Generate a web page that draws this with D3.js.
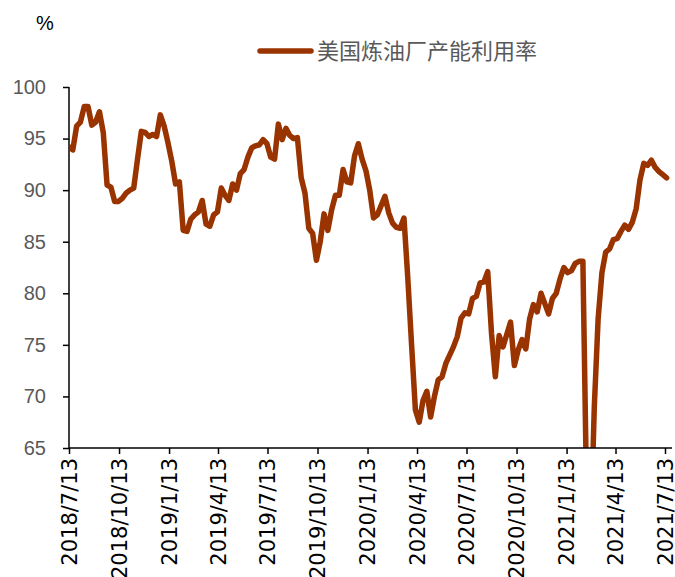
<!DOCTYPE html>
<html>
<head>
<meta charset="utf-8">
<script src="https://cdn.jsdelivr.net/npm/d3@7"></script>
<style>
  body { margin: 0; background: #fff; }
  svg { display: block; }
</style>
</head>
<body>
<div id="chart"></div>
<script>
// weekly US refinery utilization, %, first week ending 2018/7/13
var startDate = "2018-07-13"
var utilization = [
  94.2, 93.9, 96.2, 96.6, 98.1, 98.1, 96.3, 96.6, 97.6, 95.6,
  90.5, 90.3, 88.9, 88.9, 89.2, 89.7, 90.0, 90.2, 93.0, 95.7,
  95.6, 95.2, 95.4, 95.2, 97.3, 96.2, 94.6, 92.8, 90.6, 90.8,
  86.1, 86.0, 87.2, 87.6, 87.9, 89.0, 86.7, 86.5, 87.6, 87.9,
  90.2, 89.5, 89.0, 90.6, 90.0, 91.6, 92.0, 93.2, 94.1, 94.3,
  94.4, 94.9, 94.5, 93.2, 93.0, 96.4, 94.9, 96.0, 95.3, 95.0,
  95.1, 91.2, 89.7, 86.3, 85.8, 83.2, 85.0, 87.7, 86.1, 88.1,
  89.5, 89.5, 92.0, 90.8, 90.7, 93.3, 94.5, 93.0, 91.9, 90.0,
  87.3, 87.6, 88.5, 89.4, 87.8, 86.8, 86.4, 86.3, 87.3, 81.5,
  75.0, 68.7, 67.5, 69.6, 70.5, 68.0, 70.0, 71.6, 71.9, 73.2,
  74.0, 74.8, 75.8, 77.6, 78.1, 78.0, 79.5, 79.7, 81.0, 81.1,
  82.1, 76.1, 71.9, 75.9, 74.8, 76.0, 77.2, 73.0, 74.5, 75.5,
  74.6, 77.5, 78.9, 78.2, 80.0, 79.0, 78.0, 79.5, 80.0, 81.4,
  82.5, 82.0, 82.2, 82.9, 83.1, 83.1, 60.0, 56.0, 69.0, 77.5,
  82.0, 84.0, 84.3, 85.2, 85.3, 86.0, 86.6, 86.2, 86.9, 88.2,
  91.0, 92.6, 92.4, 92.9, 92.2, 91.8, 91.5, 91.2
]

var tickLabels = ["2018/7/13", "2018/10/13", "2019/1/13", "2019/4/13",
                  "2019/7/13", "2019/10/13", "2020/1/13", "2020/4/13",
                  "2020/7/13", "2020/10/13", "2021/1/13", "2021/4/13",
                  "2021/7/13"]
var yTicks = [65, 70, 75, 80, 85, 90, 95, 100]
var seriesName = "美国炼油厂产能利用率"

var lineColor = "#993300"
var parseDate = d3.timeParse("%Y/%m/%d")

var svg = d3.select("#chart").append("svg")
  .attr("width", 675)
  .attr("height", 577)

var plotLeft = 69, plotRight = 665, plotTop = 87, plotBottom = 448

var xScale = d3.scaleTime()
  .domain([parseDate("2018/7/13"), parseDate("2021/7/13")])
  .range([plotLeft, plotRight])

var yScale = d3.scaleLinear()
  .domain([65, 100])
  .range([plotBottom, plotTop])

var first = d3.timeParse("%Y-%m-%d")(startDate)
var data = utilization.map(function(v, i) {
  return { date: d3.timeWeek.offset(first, i), value: v }
})

// clip like the plot area does (the Feb 2021 dip goes below 65)
svg.append("clipPath")
  .attr("id", "plot")
  .append("rect")
  .attr("x", plotLeft + 1)
  .attr("y", plotTop - 5)
  .attr("width", 680 - plotLeft)
  .attr("height", plotBottom - plotTop + 5)

var line = d3.line()
  .x(function(d) { return xScale(d.date) })
  .y(function(d) { return yScale(d.value) })

svg.append("path")
  .datum(data)
  .attr("clip-path", "url(#plot)")
  .attr("d", line)
  .style("fill", "none")
  .style("stroke", lineColor)
  .style("stroke-width", 5.5)
  .style("stroke-linejoin", "round")
  .style("stroke-linecap", "round")

// y axis
var yAxis = d3.axisLeft(yScale)
  .tickValues(yTicks)
  .tickSize(6)
  .tickPadding(17)

var gy = svg.append("g")
  .attr("transform", "translate(" + plotLeft + ",0)")
  .call(yAxis)
gy.select(".domain").attr("d", "M0," + plotTop + "V" + plotBottom)
gy.selectAll("line").style("stroke", "#000").style("stroke-width", 1.5)
gy.select(".domain").style("stroke", "#000").style("stroke-width", 1.5)
gy.selectAll("text")
  .style("font-family", "'Liberation Sans Narrow', 'Liberation Sans', sans-serif")
  .style("font-size", "20px")
  .style("fill", "#595959")

// x axis
var xAxis = d3.axisBottom(xScale)
  .tickValues(tickLabels.map(parseDate))
  .tickFormat(function(d, i) { return tickLabels[i] })
  .tickSize(6)
  .tickSizeOuter(0)

var gx = svg.append("g")
  .attr("transform", "translate(0," + plotBottom + ")")
  .call(xAxis)
gx.select(".domain").attr("d", "M" + plotLeft + ",0H672")
  .style("stroke", "#000").style("stroke-width", 1.5)
gx.selectAll("line").style("stroke", "#000").style("stroke-width", 1.5)
gx.selectAll("text")
  .attr("transform", "rotate(-90)")
  .attr("x", -10)
  .attr("y", 0)
  .attr("dy", "0.35em")
  .style("text-anchor", "end")
  .style("font-family", "'DejaVu Sans', sans-serif")
  .style("font-size", "21px")
  .style("fill", "#000")

// unit label
svg.append("text")
  .attr("x", 36)
  .attr("y", 30)
  .text("%")
  .style("font-family", "'Liberation Sans', sans-serif")
  .style("font-size", "20px")
  .style("fill", "#000")

// legend
svg.append("line")
  .attr("x1", 260)
  .attr("x2", 311)
  .attr("y1", 51)
  .attr("y2", 51)
  .style("stroke", lineColor)
  .style("stroke-width", 5.5)
  .style("stroke-linecap", "round")

svg.append("text")
  .attr("x", 317)
  .attr("y", 59)
  .text(seriesName)
  .style("font-family", "'Noto Sans CJK SC', sans-serif")
  .style("font-size", "22px")
  .style("fill", "#595959")
</script>
</body>
</html>
